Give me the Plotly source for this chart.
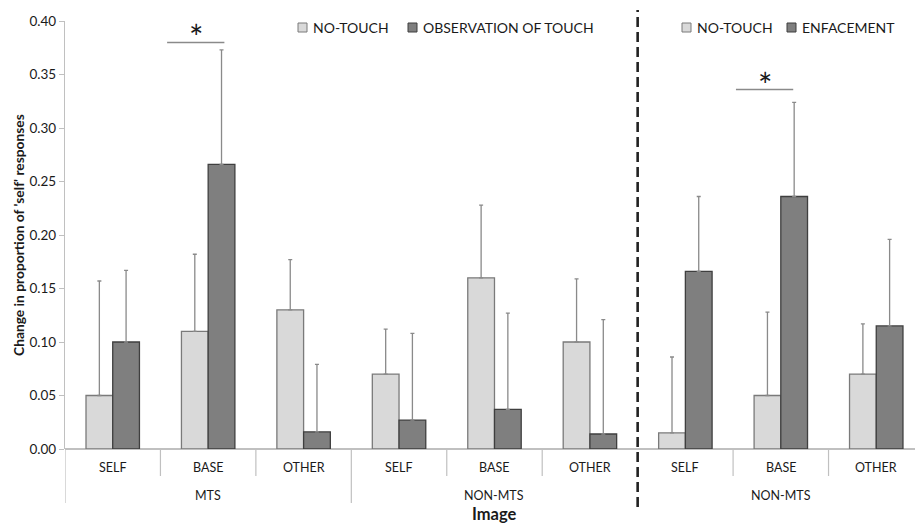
import plotly.graph_objects as go

# ---------------- data ----------------
images = ["SELF", "BASE", "OTHER", "SELF", "BASE", "OTHER", "SELF", "BASE", "OTHER"]
groups = ["MTS", "NON-MTS", "NON-MTS"]
no_touch = [0.050, 0.110, 0.130, 0.070, 0.160, 0.100, 0.015, 0.050, 0.070]
no_touch_err = [0.107, 0.072, 0.047, 0.042, 0.068, 0.059, 0.071, 0.078, 0.047]
touch = [0.100, 0.266, 0.016, 0.027, 0.037, 0.014, 0.166, 0.236, 0.115]
touch_err = [0.067, 0.107, 0.063, 0.081, 0.090, 0.107, 0.070, 0.088, 0.081]
y_ticks = [0.00, 0.05, 0.10, 0.15, 0.20, 0.25, 0.30, 0.35, 0.40]
legend1_names = ["NO-TOUCH", "OBSERVATION OF TOUCH"]
legend2_names = ["NO-TOUCH", "ENFACEMENT"]
# significance markers: (x0, x1, line y, star y) in axis units
sig_marks = [(0.57, 1.17, 0.380, 0.393), (6.53, 7.13, 0.336, 0.348)]

FONT = "Lato"
TXT = "#1a1a1a"
LIGHT = "#d9d9d9"
DARK = "#7f7f7f"
LIGHT_LINE = "#7a7a7a"
DARK_LINE = "#3f3f3f"
GRID = "#c0c0c0"
BW = 0.28

W, H = 915, 523
ML, MT, MB = 65, 21, 74
PW, PH = W - ML, H - MT - MB


def px(x):
    return (x - ML) / PW


def py(y):
    return (H - MB - y) / PH


pos = list(range(len(images)))
fig = go.Figure()


def add_bars(idx, vals, errs, color, line, name, dx):
    fig.add_trace(go.Bar(
        x=[pos[i] + dx for i in idx],
        y=[vals[i] for i in idx],
        width=BW,
        name=name,
        showlegend=False,
        marker=dict(color=color, line=dict(color=line, width=1.3)),
        error_y=dict(type="data", array=[errs[i] for i in idx], symmetric=False,
                     arrayminus=[0] * len(idx), color="#8a8a8a", thickness=1.3, width=2),
    ))


g1 = list(range(6))
g2 = list(range(6, 9))
add_bars(g1, no_touch, no_touch_err, LIGHT, LIGHT_LINE, legend1_names[0], -BW / 2)
add_bars(g1, touch, touch_err, DARK, DARK_LINE, legend1_names[1], BW / 2)
add_bars(g2, no_touch, no_touch_err, LIGHT, LIGHT_LINE, legend2_names[0], -BW / 2)
add_bars(g2, touch, touch_err, DARK, DARK_LINE, legend2_names[1], BW / 2)

shapes = []
annotations = []
# category separators below axis
for b in range(1, 9):
    if b == 6:
        continue
    y0 = py(503) if b == 3 else py(476)
    shapes.append(dict(type="line", xref="x", yref="paper", x0=b - 0.5, x1=b - 0.5, y0=0, y1=y0,
                       line=dict(color=GRID, width=1.2)))
# left axis extension
shapes.append(dict(type="line", xref="x", yref="paper", x0=-0.5, x1=-0.5, y0=0, y1=py(503),
                   line=dict(color=GRID, width=1.2)))
# dashed separator
shapes.append(dict(type="line", xref="x", yref="paper", x0=5.5, x1=5.5, y0=py(507), y1=py(10),
                   line=dict(color="#222222", width=2.6, dash="10px,5px")))
# category labels
for i, lab in enumerate(images):
    annotations.append(dict(x=i, y=py(467), xref="x", yref="paper", text=lab, showarrow=False,
                            font=dict(size=12.5, color=TXT, family=FONT), yanchor="middle"))
for gi, g in enumerate(groups):
    annotations.append(dict(x=gi * 3 + 1, y=py(495), xref="x", yref="paper", text=g, showarrow=False,
                            font=dict(size=12.5, color=TXT, family=FONT), yanchor="middle"))
annotations.append(dict(x=4, y=py(514), xref="x", yref="paper", text="<b>Image</b>", showarrow=False,
                        font=dict(size=16.5, color=TXT, family=FONT), yanchor="middle"))
# y-axis title
annotations.append(dict(x=px(18.5), y=py(235.5), xref="paper", yref="paper",
                        text="<b>Change in proportion of 'self' responses</b>", showarrow=False,
                        textangle=-90, xanchor="center", yanchor="middle",
                        font=dict(size=13.8, color=TXT, family=FONT)))
# significance markers
for (a, b, yy, ys) in sig_marks:
    shapes.append(dict(type="line", xref="x", yref="y", x0=a, x1=b, y0=yy, y1=yy,
                       line=dict(color="#8a8a8a", width=1.5)))
    annotations.append(dict(x=(a + b) / 2, y=ys, xref="x", yref="y", text="*", showarrow=False,
                            yanchor="middle", yshift=-8, font=dict(size=34, color=TXT, family=FONT)))

# legends (drawn as keys + labels)
legend_items = [
    (298, 311, legend1_names[0], LIGHT, LIGHT_LINE),
    (408, 421, legend1_names[1], DARK, DARK_LINE),
    (682, 695, legend2_names[0], LIGHT, LIGHT_LINE),
    (787, 800, legend2_names[1], DARK, DARK_LINE),
]
for sx, tx, name, fc, lc in legend_items:
    shapes.append(dict(type="rect", xref="paper", yref="paper", x0=px(sx), x1=px(sx + 9),
                       y0=py(32), y1=py(23), fillcolor=fc, line=dict(color=lc, width=1)))
    annotations.append(dict(x=px(tx), y=py(27.5), xref="paper", yref="paper", text=name,
                            showarrow=False, xanchor="left", yanchor="middle",
                            font=dict(size=14, color=TXT, family=FONT)))

fig.update_layout(
    width=W, height=H,
    margin=dict(l=ML, r=0, t=MT, b=MB, autoexpand=False),
    plot_bgcolor="white", paper_bgcolor="white",
    barmode="overlay",
    showlegend=False,
    font=dict(family=FONT, size=13, color=TXT),
    xaxis=dict(range=[-0.5, 8.406], showticklabels=False, ticks="", showgrid=False,
               zeroline=False, showline=False),
    yaxis=dict(range=[0, 0.40], tickvals=y_ticks, tickformat=".2f", ticks="outside",
               ticklen=5, tickcolor=GRID, showline=True, linecolor=GRID, linewidth=1.2,
               showgrid=False, zeroline=True, zerolinecolor=GRID, zerolinewidth=1.5,
               tickfont=dict(size=13.5, color=TXT)),
    shapes=shapes, annotations=annotations,
)
fig.write_html("out.html", config={"displayModeBar": False},
               post_script="document.body.style.margin='0';document.body.style.overflow='hidden';")
